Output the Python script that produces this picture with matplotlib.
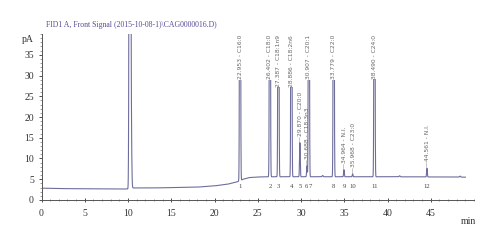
import numpy as np
import matplotlib
matplotlib.use("Agg")
import matplotlib.pyplot as plt
from matplotlib.ticker import MultipleLocator

# ---- data ----
baseline_t = [0, 2, 5, 8, 10, 10.5, 13, 15, 18, 20, 21.5, 22.5, 22.95, 23.3, 24, 25, 27, 30, 35, 40, 45, 49]
baseline_y = [2.85, 2.75, 2.7, 2.65, 2.65, 2.9, 2.9, 3.0, 3.1, 3.4, 3.8, 4.3, 4.6, 5.0, 5.4, 5.55, 5.6, 5.6, 5.6, 5.6, 5.55, 5.5]

solvent_t = [10.22, 10.36]
solvent_h = [400.0, 18.0]

peak_num = ["1", "2", "3", "4", "5", "6", "7", "8", "9", "10", "11", "12"]
peak_rt = [22.953, 26.402, 27.387, 28.886, 29.870, 30.688, 30.907, 33.779, 34.964, 35.968, 38.490, 44.561]
peak_name = ["C16:0", "C18:0", "C18:1n9", "C18:2n6", "C20:0", "C18:3n3", "C20:1",
             "C22:0", "N.I.", "C23:0", "C24:0", "N.I."]
# apex heights above baseline (pA); tall peaks are off-scale
peak_h = [160.0, 150.0, 150.0, 150.0, 8.2, 2.6, 150.0, 150.0, 1.7, 0.7, 150.0, 2.1]
peak_tall = [True, True, True, True, False, False, True, True, False, False, True, False]
num_shift = [0, 0, 0, 0, 0, -0.12, 0.18, 0, 0, 0, 0, 0]

bump_t = [32.5, 41.4, 48.4]
bump_h = [0.3, 0.25, 0.25]

title = "FID1 A, Front Signal (2015-10-08-1)\\CAG0000016.D)"

# ---- build trace ----
t = np.linspace(0, 49, 16000)
y = np.interp(t, baseline_t, baseline_y)
for c, h in zip(solvent_t, solvent_h):
    y = y + h * np.exp(-0.5 * ((t - c) / 0.06) ** 2)
for c, h, tall in zip(peak_rt, peak_h, peak_tall):
    s = 0.045 if tall else 0.04
    y = y + h * np.exp(-0.5 * ((t - c) / s) ** 2)
for c, h in zip(bump_t, bump_h):
    y = y + h * np.exp(-0.5 * ((t - c) / 0.06) ** 2)

trace_col = "#6e6e9c"
fig = plt.figure(figsize=(5.0, 2.43), dpi=100)
ax = fig.add_axes([0.083, 0.177, 0.865, 0.683])
ax.plot(t, y, color=trace_col, lw=0.8)
ax.set_xlim(0, 50)
ax.set_ylim(0, 40)

for s in ["top", "right"]:
    ax.spines[s].set_visible(False)
for s in ["left", "bottom"]:
    ax.spines[s].set_color("#555555")
    ax.spines[s].set_linewidth(0.7)

serif = ["Liberation Serif", "DejaVu Serif"]
ax.set_xticks(np.arange(0, 50, 5))
ax.set_yticks(np.arange(0, 40, 5))
ax.xaxis.set_minor_locator(MultipleLocator(1))
ax.yaxis.set_minor_locator(MultipleLocator(1))
ax.tick_params(axis="y", which="major", direction="out", length=2.5, width=0.6,
               pad=3, labelsize=7, colors="#333333")
ax.tick_params(axis="y", which="minor", direction="out", length=1.2, width=0.4, colors="#555555")
ax.tick_params(axis="x", which="major", direction="inout", length=3, width=0.6,
               pad=5, labelsize=7, colors="#333333")
ax.tick_params(axis="x", which="minor", direction="inout", length=1.6, width=0.4, colors="#555555")
for lab in ax.get_xticklabels() + ax.get_yticklabels():
    lab.set_family(serif)

ax.text(-0.9, 38.6, "pA", ha="right", va="center", fontsize=7, family=serif, color="#333333")
ax.text(49.4, -5.3, "min", ha="center", va="center", fontsize=7, family=serif, color="#333333",
        clip_on=False)
ax.text(0.5, 42.2, title, ha="left", va="center", fontsize=5.6, family=serif,
        color="#5a4a96", clip_on=False)

for num, rt, name, h, tall, sh in zip(peak_num, peak_rt, peak_name, peak_h, peak_tall, num_shift):
    lab = f"{rt:.3f} - {name}"
    if tall:
        ax.text(rt, 39.8, lab, rotation=90, ha="center", va="top", fontsize=4.3,
                color="#666666", clip_on=False,
                bbox=dict(facecolor="white", edgecolor="none", pad=0.3))
    else:
        top = np.interp(rt, baseline_t, baseline_y) + h
        ax.text(rt + 0.1, top + 0.2, "\u2014" + lab, rotation=90, ha="center", va="bottom",
                fontsize=4.3, color="#666666", clip_on=False)
    ax.text(rt + sh, 3.2, num, ha="center", va="center", fontsize=4.8, family=serif,
            color="#444444")

fig.savefig("out.png", dpi=100)
